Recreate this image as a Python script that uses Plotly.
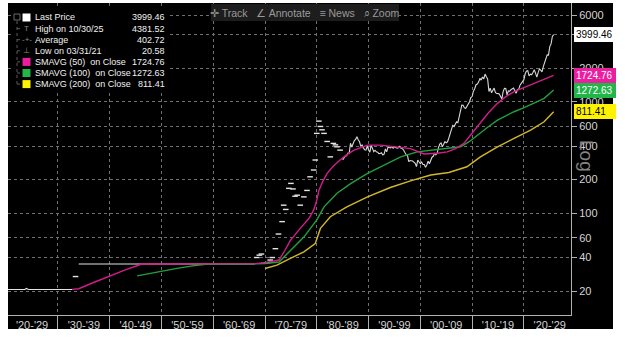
import math
import plotly.graph_objects as go

# ---------------- data ----------------
# Gold spot, quarterly closes (USD / oz)
early_years_a = [1920.0, 1921.25, 1923.6, 1923.9, 1924.3, 1932.75]
early_price_a = [20.67, 20.58, 20.67, 21.1, 20.67, 20.67]
early_years_b = [1934.0, 1936.5, 1937.0, 1937.6, 1968.0]
early_price_b = [35.0, 35.0, 35.3, 35.0, 35.0]

# sparse closes 1933 and 1968-1984 (shown as short dashes)
dash_years = [1933.4, 1968.4, 1968.9, 1969.3, 1969.8, 1970.4, 1971.0, 1971.4, 1972.0,
              1972.6, 1973.3, 1973.6, 1974.0, 1974.6, 1975.0, 1975.4, 1975.8, 1976.2,
              1976.8, 1977.5, 1978.1, 1978.7, 1979.4, 1979.7, 1980.0, 1980.4, 1980.7,
              1981.0, 1981.4, 1982.0, 1982.6, 1983.2, 1983.6, 1983.9, 1984.5]
dash_price = [27.0, 40.0, 42.0, 43.0, 35.5, 36.0, 38.0, 40.0, 48.0,
              65.0, 84.0, 118.0, 108.0, 167.0, 185.0, 165.0, 142.0, 145.0,
              118.0, 140.0, 160.0, 212.0, 244.0, 300.0, 520.0, 670.0, 600.0,
              560.0, 520.0, 440.0, 320.0, 423.0, 410.0, 394.0, 368.0]

late_start = 1985.0
late_price = [
    300, 318, 326, 327,      # 1985
    345, 343, 424, 392,      # 1986
    420, 448, 460, 486,      # 1987
    456, 437, 398, 410,      # 1988
    385, 371, 368, 401,      # 1989
    369, 353, 408, 386,      # 1990
    356, 367, 355, 353,      # 1991
    342, 343, 349, 333,      # 1992
    338, 377, 355, 391,      # 1993
    390, 385, 396, 383,      # 1994
    392, 387, 384, 387,      # 1995
    397, 382, 380, 369,      # 1996
    351, 335, 332, 290,      # 1997
    297, 296, 294, 287,      # 1998
    280, 262, 299, 288,      # 1999
    278, 288, 273, 273,      # 2000
    258, 271, 293, 278,      # 2001
    302, 318, 324, 347,      # 2002
    334, 346, 388, 416,      # 2003
    427, 395, 415, 438,      # 2004
    428, 437, 473, 513,      # 2005
    582, 613, 599, 632,      # 2006
    662, 650, 743, 836,      # 2007
    933, 930, 884, 870,      # 2008
    916, 934, 1000, 1088,    # 2009
    1113, 1244, 1307, 1421,  # 2010
    1439, 1500, 1620, 1564,  # 2011
    1668, 1604, 1772, 1676,  # 2012
    1596, 1234, 1326, 1202,  # 2013
    1284, 1327, 1210, 1184,  # 2014
    1183, 1172, 1115, 1061,  # 2015
    1235, 1320, 1316, 1151,  # 2016
    1249, 1242, 1280, 1303,  # 2017
    1325, 1253, 1192, 1282,  # 2018
    1292, 1409, 1472, 1517,  # 2019
    1577, 1781, 1886, 1898,  # 2020
    1708, 1770, 1743, 1829,  # 2021
    1937, 1807, 1661, 1824,  # 2022
    1969, 1919, 1849, 2063,  # 2023
    2230, 2327, 2635, 2625,  # 2024
    3124, 3303, 3858, 3999.46,  # 2025
]
late_years = [late_start + i / 4 for i in range(len(late_price))]

# simple moving averages on close (50 / 100 / 200 periods)
sma50_years = [1932.7, 1934.0, 1937.0, 1940.0, 1943.0, 1946.2, 1968.0, 1970.0, 1971.5,
               1972.7, 1973.8, 1974.9, 1976.8, 1978.5, 1979.4, 1980.0, 1980.4, 1981.2,
               1982.0, 1983.2, 1984.5, 1985.8, 1987.2, 1989.8, 1992.3, 1995.6, 1998.1,
               2000.7, 2003.3, 2005.2, 2006.8, 2008.4, 2010.0, 2011.6, 2013.2, 2014.9,
               2016.5, 2018.1, 2019.7, 2021.3, 2022.6, 2023.9, 2025.75]
sma50_vals = [20.7, 21.0, 24.0, 27.5, 31.0, 35.0, 35.3, 36.0, 36.8,
              38.0, 46.0, 57.0, 73.0, 90.0, 107.0, 131.0, 160.0, 195.0,
              228.0, 265.0, 300.0, 335.0, 368.0, 408.0, 408.0, 395.0, 380.0,
              340.0, 345.0, 355.0, 380.0, 423.0, 520.0, 640.0, 800.0, 967.0,
              1110.0, 1230.0, 1320.0, 1412.0, 1490.0, 1566.0, 1724.76]

sma100_years = [1945.3, 1949.0, 1953.0, 1956.0, 1958.9, 1968.0, 1970.0, 1972.7, 1974.9,
                1977.5, 1980.0, 1981.4, 1983.9, 1986.6, 1989.8, 1993.0, 1996.2, 1999.4,
                2003.3, 2005.8, 2007.8, 2009.5, 2011.0, 2013.0, 2014.9, 2016.5, 2018.1,
                2019.7, 2021.3, 2022.6, 2023.9, 2025.75]
sma100_vals = [27.4, 29.6, 32.0, 33.7, 35.0, 35.1, 35.4, 36.5, 46.6,
               61.0, 87.0, 114.0, 151.0, 185.0, 228.0, 270.0, 320.0, 355.0,
               373.0, 381.0, 394.0, 440.0, 502.0, 590.0, 684.0, 750.0, 813.0,
               870.0, 933.0, 1000.0, 1072.0, 1272.63]

sma200_years = [1970.0, 1972.3, 1974.9, 1977.5, 1979.7, 1980.7, 1982.6, 1985.8, 1989.8,
                1992.3, 1994.2, 1998.1, 2002.0, 2005.5, 2009.0, 2011.6, 2014.9, 2018.1,
                2021.3, 2023.9, 2025.75]
sma200_vals = [31.9, 34.2, 39.3, 45.0, 53.5, 73.0, 93.0, 114.0, 140.0,
               155.0, 170.0, 195.0, 220.0, 232.0, 261.0, 320.0, 394.0, 469.0,
               557.0, 661.0, 811.41]

decade_starts = list(range(1920, 2030, 10))
decade_labels = ["'%02d-'%02d" % (d % 100, (d + 9) % 100) for d in decade_starts]
y_ticks = [20, 40, 60, 100, 200, 400, 600, 1000, 2000, 4000, 6000]
y_tick_text = ["20", "40", "60", "100", "200", "400", "600", "1000", "2000", "", "6000"]

legend_rows = ["Last Price", "High on 10/30/25", "Average", "Low on 03/31/21",
               "SMAVG (50)\u00a0 on Close", "SMAVG (100)\u00a0 on Close",
               "SMAVG (200)\u00a0 on Close"]
legend_vals = [3999.46, 4381.52, 402.72, 20.58, 1724.76, 1272.63, 811.41]

# ---------------- styling ----------------
PRICE = "#e4e4e4"
MAG_LINE, GRN_LINE, YEL_LINE = "#d21c8c", "#23a03c", "#d2b82a"
MAG, GRN, YEL = "#ec1ea0", "#22b548", "#fff200"
GRID = "#707070"
AXIS = "#b0b0b0"
FONT = "Liberation Sans"

W, H = 625, 341
ML, MR, MT, MB = 8, 54, 3, 26
PW, PH = W - ML - MR, H - MT - MB


def px(xp):
    return (xp - ML) / PW


def py(yp):
    return (H - MB - yp) / PH


fig = go.Figure()
fig.add_trace(go.Scatter(x=early_years_a, y=early_price_a, mode="lines",
                         line=dict(color=PRICE, width=1.2), hoverinfo="skip"))
fig.add_trace(go.Scatter(x=early_years_b, y=early_price_b, mode="lines",
                         line=dict(color=PRICE, width=1.2), hoverinfo="skip"))
fig.add_trace(go.Scatter(x=dash_years, y=dash_price, mode="markers",
                         marker=dict(symbol="line-ew", size=4,
                                     line=dict(color=PRICE, width=1.4)),
                         hoverinfo="skip"))
fig.add_trace(go.Scatter(x=late_years, y=late_price, mode="lines",
                         line=dict(color="#d8d8d8", width=1.1), hoverinfo="skip"))
for xs, ys, c in [(sma200_years, sma200_vals, YEL_LINE),
                  (sma100_years, sma100_vals, GRN_LINE),
                  (sma50_years, sma50_vals, MAG_LINE)]:
    fig.add_trace(go.Scatter(x=xs, y=ys, mode="lines",
                             line=dict(color=c, width=1.4), hoverinfo="skip"))

shapes = [
    # white frame around the dark chart panel
    dict(type="rect", xref="paper", yref="paper", x0=px(0), x1=px(8), y0=py(H), y1=py(0),
         fillcolor="white", line=dict(width=0), layer="above"),
    dict(type="rect", xref="paper", yref="paper", x0=px(613), x1=px(W), y0=py(H), y1=py(0),
         fillcolor="white", line=dict(width=0), layer="above"),
    dict(type="rect", xref="paper", yref="paper", x0=px(0), x1=px(W), y0=py(H), y1=py(329),
         fillcolor="white", line=dict(width=0), layer="above"),
    dict(type="rect", xref="paper", yref="paper", x0=px(0), x1=px(W), y0=py(3), y1=py(0),
         fillcolor="white", line=dict(width=0), layer="above"),
    # legend panel
    dict(type="rect", xref="paper", yref="paper", x0=px(11), x1=px(170), y0=py(92), y1=py(7),
         fillcolor="black", line=dict(width=0), layer="above"),
    # toolbar
    dict(type="rect", xref="paper", yref="paper", x0=px(211), x1=px(399), y0=py(21), y1=py(4),
         fillcolor="#1d1d1d", line=dict(width=0), layer="above"),
    # legend tree
    dict(type="rect", xref="paper", yref="paper", x0=px(14), x1=px(20), y0=py(20), y1=py(14),
         fillcolor="black", line=dict(color="#6a6a6a", width=1), layer="above"),
    dict(type="line", xref="paper", yref="paper", x0=px(17), x1=px(17), y0=py(21), y1=py(85),
         line=dict(color="#5a5a5a", width=1, dash="dot"), layer="above"),
]
row_y = [17.5, 28.6, 39.7, 50.8, 61.9, 73.0, 84.1]
for yy in row_y[1:]:
    shapes.append(dict(type="line", xref="paper", yref="paper", x0=px(17), x1=px(21),
                       y0=py(yy), y1=py(yy),
                       line=dict(color="#5a5a5a", width=1, dash="dot"), layer="above"))
# legend swatches
for yy, c in [(row_y[0], "white"), (row_y[4], MAG), (row_y[5], GRN), (row_y[6], YEL)]:
    shapes.append(dict(type="rect", xref="paper", yref="paper", x0=px(22.5), x1=px(30.5),
                       y0=py(yy + 4), y1=py(yy - 4), fillcolor=c, line=dict(width=0),
                       layer="above"))

annotations = []
for yy, lab, val in zip(row_y, legend_rows, legend_vals):
    annotations.append(dict(xref="paper", yref="paper", x=px(33), y=py(yy), xanchor="left",
                            yanchor="middle", text=lab, showarrow=False,
                            font=dict(family=FONT, size=9, color="#f0f0f0")))
    annotations.append(dict(xref="paper", yref="paper", x=px(167), y=py(yy), xanchor="right",
                            yanchor="middle", text="%.2f" % val, showarrow=False,
                            font=dict(family=FONT, size=9, color="#f0f0f0")))
for yy, glyph in [(row_y[1], "T"), (row_y[2], "-+-"), (row_y[3], "\u22a5")]:
    annotations.append(dict(xref="paper", yref="paper", x=px(26.5), y=py(yy), xanchor="center",
                            yanchor="middle", text=glyph, showarrow=False,
                            font=dict(family=FONT, size=8, color="#8a8a8a")))

annotations.append(dict(xref="paper", yref="paper", x=px(305), y=py(12.5), xanchor="center",
                        yanchor="middle", showarrow=False,
                        text="\u271b Track\u00a0\u00a0 \u2220 Annotate\u00a0\u00a0 \u2261 News\u00a0\u00a0 \u2315 Zoom",
                        font=dict(family=FONT, size=10.5, color="#9a9a9a")))

# value tags on the right axis
for val, bg, fg in [(3999.46, "white", "black"), (1724.76, MAG, "white"),
                    (1272.63, GRN, "white"), (811.41, YEL, "black")]:
    annotations.append(dict(xref="paper", yref="y", x=px(573.5), y=math.log10(val),
                            xanchor="left", yanchor="middle", text="%.2f" % val,
                            showarrow=False, width=38, align="left", borderpad=1,
                            bgcolor=bg, bordercolor=bg,
                            font=dict(family=FONT, size=10, color=fg)))

annotations.append(dict(xref="paper", yref="paper", x=px(587), y=py(156), xanchor="center",
                        yanchor="middle", text="Log", textangle=90, showarrow=False,
                        font=dict(family=FONT, size=19, color="#858585")))

fig.update_layout(
    width=W, height=H,
    margin=dict(l=ML, r=MR, t=MT, b=MB, pad=0),
    paper_bgcolor="black", plot_bgcolor="black",
    showlegend=False,
    shapes=shapes, annotations=annotations,
    xaxis=dict(
        range=[1920.35, 2029.1], tickmode="array",
        tickvals=[d + 5 for d in decade_starts], ticktext=decade_labels,
        ticks="", showgrid=False, zeroline=False,
        showline=True, linecolor=AXIS, linewidth=1,
        tickfont=dict(family=FONT, size=11, color="#d4d4d4"),
        minor=dict(tick0=1930, dtick=10, ticks="outside", ticklen=14, tickwidth=1,
                   tickcolor=AXIS, showgrid=True, gridcolor=GRID, gridwidth=1,
                   griddash="dot"),
    ),
    yaxis=dict(
        type="log", side="right", range=[math.log10(12.2), math.log10(7690)],
        tickmode="array", tickvals=y_ticks, ticktext=y_tick_text,
        ticks="outside", ticklen=5, tickcolor=AXIS,
        showline=True, linecolor=AXIS, linewidth=1, zeroline=False,
        showgrid=True, gridcolor=GRID, gridwidth=1, griddash="dot",
        tickfont=dict(family=FONT, size=11, color="#d4d4d4"),
    ),
)

fig.write_html("out.html")
